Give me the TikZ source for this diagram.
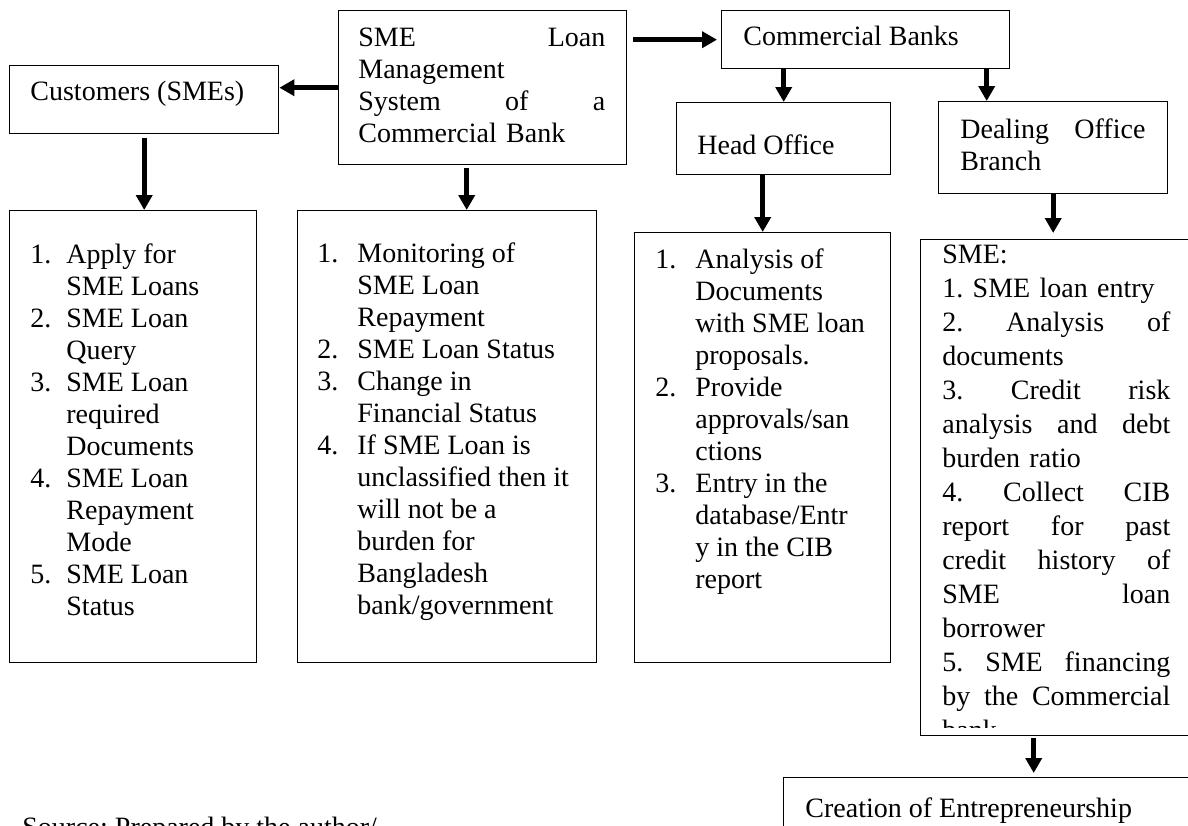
\documentclass[tikz,border=0pt]{standalone}
\usepackage{fontspec}
\setmainfont{Liberation Serif}
\usetikzlibrary{arrows.meta,positioning}
\frenchspacing

\tikzset{
  box/.style={draw,line width=0.7pt,rectangle,inner sep=0pt,anchor=north west},
  flow/.style={-{Triangle[length=7.5pt,width=8pt]},line width=2.4pt},
  txt/.style={inner sep=0pt,anchor=base west,align=left},
}
\newcommand{\itemlist}[2]{\begin{tabular}[t]{@{}p{#1}@{}l@{}}#2\end{tabular}}

\begin{document}
\begin{tikzpicture}[x=0.5pt,y=-0.5pt,font=\fontsize{14}{16}\selectfont]
  \useasboundingbox (0,0) rectangle (1188,825);

  % boxes
  \node[box,minimum width=144pt,minimum height=77pt] (sys) at (338,10) {};
  \node[box,minimum width=134.5pt,minimum height=34pt] (cust) at (9,65) {};
  \node[box,minimum width=144pt,minimum height=29pt] (cb) at (721,10) {};
  \node[box,minimum width=107pt,minimum height=36pt] (ho) at (676,102) {};
  \node[box,minimum width=114.5pt,minimum height=46pt] (dob) at (938,101) {};
  \node[box,minimum width=123.5pt,minimum height=226pt] (l1) at (9,210) {};
  \node[box,minimum width=149.5pt,minimum height=226pt] (l2) at (297,210) {};
  \node[box,minimum width=128pt,minimum height=215pt] (l3) at (634,232) {};
  \node[box,minimum width=145pt,minimum height=248pt] (l4) at (920,239) {};
  \node[box,minimum width=218.5pt,minimum height=41.5pt] (cre) at (783,777) {};

  % texts
  \node[txt] (custtxt) at (30,100) {Customers (SMEs)};
  \node[txt,text width=123.5pt] (systxt) at (358,46)
    {SME\hfill Loan\\Management\\System\hfill of\hfill a\\Commercial Bank};
  \node[txt] (cbtxt) at (743,45) {Commercial Banks};
  \node[txt] (hotxt) at (697,154) {Head Office};
  \node[txt,text width=92.5pt] (dobtxt) at (960,138) {Dealing\hfill Office\\Branch};

  \node[txt] (l1txt) at (30,263) {\itemlist{18pt}{
    1. & Apply for\\ & SME Loans\\
    2. & SME Loan\\ & Query\\
    3. & SME Loan\\ & required\\ & Documents\\
    4. & SME Loan\\ & Repayment\\ & Mode\\
    5. & SME Loan\\ & Status}};
  \node[txt] (l2txt) at (317,262) {\itemlist{20pt}{
    1. & Monitoring of\\ & SME Loan\\ & Repayment\\
    2. & SME Loan Status\\
    3. & Change in\\ & Financial Status\\
    4. & If SME Loan is\\ & unclassified then it\\ & will not be a\\
       & burden for\\ & Bangladesh\\ & bank/government}};
  \node[txt] (l3txt) at (655,268) {\itemlist{20pt}{
    1. & Analysis of\\ & Documents\\ & with SME loan\\ & proposals.\\
    2. & Provide\\ & approvals/san\\ & ctions\\
    3. & Entry in the\\ & database/Entr\\ & y in the CIB\\ & report}};

  \begin{scope}
    \clip (920,239) rectangle (1188,727);
    \node[txt,text width=114pt,font=\fontsize{14}{17}\selectfont] (l4txt) at (942,263)
      {SME:\\
       1. SME loan entry\\
       2.\hfill Analysis\hfill of\\
       documents\\
       3.\hfill Credit\hfill risk\\
       analysis\hfill and\hfill debt\\
       burden ratio\\
       4.\hfill Collect\hfill CIB\\
       report\hfill for\hfill past\\
       credit\hfill history\hfill of\\
       SME\hfill loan\\
       borrower\\
       5.\hfill SME\hfill financing\\
       by\hfill the\hfill Commercial\\
       bank};
  \end{scope}

  \node[txt] (cretxt) at (805,817) {Creation of Entrepreneurship};
  \node[txt] (src) at (22,836) {Source: Prepared by the author/};

  % arrows
  \draw[flow] (sys.west) -- (sys.west -| cust.east);
  \draw[flow] ([xshift=3pt]sys.east |- cb.west) -- ([xshift=-2pt]cb.west);
  \draw[flow] ([yshift=-2pt]cust.south) -- (cust.south |- l1.north);
  \draw[flow] ([xshift=-8pt,yshift=-1.5pt]sys.south) -- ([xshift=-8pt]sys.south |- l2.north);
  \draw[flow] (ho.north |- cb.south) -- (ho.north);
  \draw[flow] ([xshift=60.5pt]cb.south) -- ([xshift=60.5pt]cb.south |- dob.north);
  \draw[flow] (l3.north |- ho.south) -- (l3.north);
  \draw[flow,shorten >=3pt] (dob.south) -- (dob.south |- l4.north);
  \draw[flow,shorten >=2pt] ([xshift=-16pt,yshift=-1pt]l4.south) -- ([xshift=-16pt]l4.south |- cre.north);
\end{tikzpicture}
\end{document}
